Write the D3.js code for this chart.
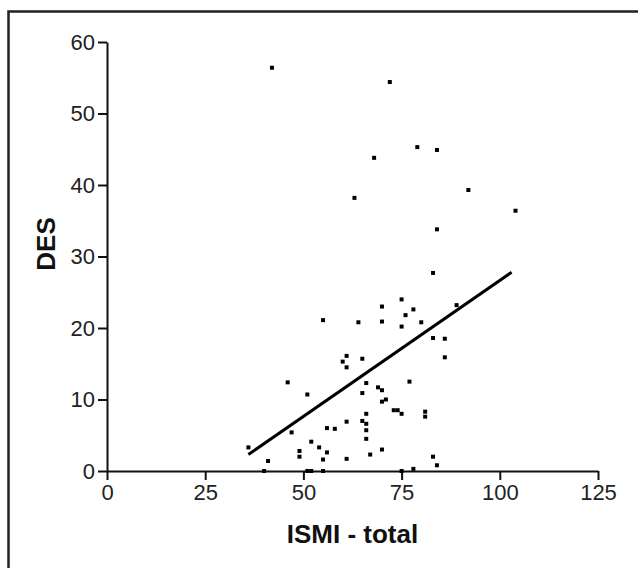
<!DOCTYPE html>
<html>
<head>
<meta charset="utf-8">
<script src="https://cdn.jsdelivr.net/npm/d3@7"></script>
<style>
  body { margin: 0; background: #fff; }
  svg { display: block; font-family: "Liberation Sans", Arial, sans-serif; }
</style>
</head>
<body>
<div id="scatter"></div>
<script>
// values
var ismi = [42, 72, 79, 84, 68, 92, 63, 104, 84, 83, 75, 89, 70, 78, 76, 55, 64, 70, 80, 75,
  83, 86, 61, 86, 65, 60, 61, 77, 46, 66, 69, 70, 65, 51, 71, 70, 73, 74, 81, 66,
  75, 81, 65, 61, 66, 56, 58, 66, 47, 66, 52, 54, 36, 70, 49, 56, 67, 49, 83, 61,
  55, 41, 84, 78, 40, 51, 52, 55, 75];
var des = [56.4, 54.4, 45.3, 44.9, 43.8, 39.3, 38.2, 36.4, 33.8, 27.7, 24.0, 23.2, 23.0, 22.6, 21.8, 21.1, 20.8, 20.9, 20.8, 20.2,
  18.6, 18.5, 16.1, 15.9, 15.7, 15.3, 14.5, 12.5, 12.4, 12.3, 11.7, 11.3, 10.9, 10.7, 10.0, 9.7, 8.5, 8.5, 8.3, 8.0,
  8.0, 7.6, 7.0, 6.9, 6.6, 6.0, 5.9, 5.7, 5.4, 4.5, 4.1, 3.3, 3.3, 3.0, 2.8, 2.6, 2.3, 2.0, 2.0, 1.7,
  1.6, 1.4, 0.8, 0.3, 0, 0, 0, 0, 0];

// fitted line ends
var fitX = [36, 103];
var fitY = [2.3, 27.8];

var xTicks = [0, 25, 50, 75, 100, 125];
var yTicks = [0, 10, 20, 30, 40, 50, 60];

(function() {
  var width = 638,
      height = 568;

  var svg = d3.select("#scatter")
    .append("svg")
    .attr("width", width)
    .attr("height", height);

  // frame round the figure (runs off right and bottom)
  svg.append("rect")
    .attr("x", 8.5)
    .attr("y", 11.5)
    .attr("width", 640)
    .attr("height", 570)
    .attr("fill", "none")
    .attr("stroke", "#222")
    .attr("stroke-width", 2.5);

  var x = d3.scaleLinear().domain([0, 125]).range([107, 598]);
  var y = d3.scaleLinear().domain([0, 60]).range([471, 42]);

  var xAxis = svg.append("g")
    .attr("transform", "translate(0," + y(0) + ")")
    .call(d3.axisBottom(x).tickValues(xTicks).tickSize(9).tickPadding(4).tickSizeOuter(0));

  var yAxis = svg.append("g")
    .attr("transform", "translate(" + x(0) + ",0)")
    .call(d3.axisLeft(y).tickValues(yTicks).tickSize(9).tickPadding(3).tickSizeOuter(0));

  [xAxis, yAxis].forEach(function(g) {
    g.select(".domain").attr("stroke", "#111").attr("stroke-width", 2);
    g.selectAll(".tick line").attr("stroke", "#111").attr("stroke-width", 2);
    g.selectAll(".tick text")
      .attr("fill", "#222")
      .style("font-size", "22px")
      .style("font-family", "'Liberation Sans', Arial, sans-serif");
  });

  // axis titles
  svg.append("text")
    .attr("x", x(62.5))
    .attr("y", 543)
    .attr("text-anchor", "middle")
    .style("font-size", "26px")
    .style("font-weight", "bold")
    .attr("fill", "#111")
    .text("ISMI - total");

  svg.append("text")
    .attr("transform", "translate(55,244) rotate(-90)")
    .attr("text-anchor", "middle")
    .style("font-size", "26px")
    .style("font-weight", "bold")
    .attr("fill", "#111")
    .text("DES");

  // the points
  var points = ismi.map(function(v, i) {
    return { x: v, y: des[i] };
  });

  svg.selectAll(".dot")
    .data(points)
    .enter().append("rect")
    .attr("class", "dot")
    .attr("x", function(d) { return x(d.x) - 2; })
    .attr("y", function(d) { return y(d.y) - 2; })
    .attr("width", 4)
    .attr("height", 4)
    .attr("fill", "#000");

  // regression line
  svg.append("line")
    .attr("x1", x(fitX[0]))
    .attr("y1", y(fitY[0]))
    .attr("x2", x(fitX[1]))
    .attr("y2", y(fitY[1]))
    .attr("stroke", "#000")
    .attr("stroke-width", 3);
})();
</script>
</body>
</html>
